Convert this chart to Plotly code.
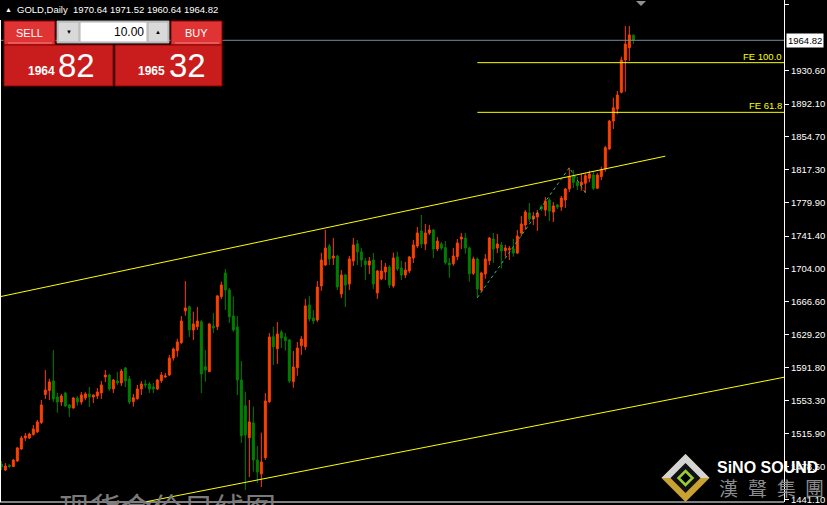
import plotly.graph_objects as go
import pandas as pd

# ---------------- data ----------------
dates = pd.bdate_range(end="2020-07-30", periods=159).strftime("%Y-%m-%d").tolist()

opens = [1481.3, 1474.5, 1479.7, 1478.5, 1484.8, 1498.5, 1511.1, 1511.1, 1515.1, 1517.9,
         1528.7, 1560.7, 1565.2, 1576.1, 1557.8, 1552.1, 1562.4, 1548.7, 1545.3, 1556.7,
         1552.1, 1556.7, 1561.3, 1557.8, 1559.0, 1562.4, 1580.6, 1582.9, 1567.0, 1576.1,
         1573.8, 1590.9, 1578.3, 1552.5, 1555.9, 1567.0, 1572.7, 1572.7, 1569.2, 1567.0,
         1576.4, 1580.6, 1582.9, 1602.3, 1610.6, 1619.8, 1656.0, 1660.9, 1634.3, 1638.0,
         1643.7, 1592.4, 1586.7, 1638.8, 1638.0, 1672.3, 1699.3, 1679.9, 1650.2, 1637.7,
         1577.2, 1547.9, 1511.4, 1528.2, 1485.9, 1470.0, 1488.6, 1552.5, 1626.6, 1612.9,
         1632.0, 1626.3, 1622.9, 1575.3, 1591.3, 1616.4, 1615.2, 1662.8, 1648.0, 1645.7,
         1684.5, 1708.4, 1730.1, 1716.4, 1718.7, 1675.3, 1697.0, 1686.8, 1713.0, 1732.4,
         1723.3, 1713.0, 1708.4, 1714.1, 1676.5, 1692.5, 1700.4, 1706.1, 1684.5, 1717.6,
         1705.0, 1697.0, 1701.6, 1716.4, 1730.1, 1747.2, 1732.4, 1745.0, 1748.4, 1726.7,
         1732.4, 1728.2, 1710.7, 1709.9, 1717.9, 1738.1, 1739.2, 1727.8, 1698.9, 1715.3,
         1679.9, 1698.2, 1713.3, 1738.1, 1727.8, 1731.3, 1724.8, 1725.9, 1727.0, 1722.1,
         1744.9, 1754.1, 1767.8, 1760.9, 1763.2, 1775.0, 1771.2, 1782.6, 1768.9, 1776.9,
         1774.6, 1782.6, 1795.2, 1809.2, 1802.8, 1799.7, 1801.7, 1807.4, 1811.1, 1796.0,
         1809.2, 1818.0, 1840.8, 1872.7, 1886.4, 1905.5, 1942.3, 1956.4, 1970.64]
highs = [1484.8, 1482.5, 1481.3, 1487.0, 1500.8, 1513.4, 1516.8, 1517.1, 1525.9, 1531.6,
         1554.4, 1588.6, 1578.7, 1611.5, 1562.4, 1561.3, 1563.5, 1549.8, 1557.8, 1559.0,
         1563.5, 1563.2, 1569.2, 1560.7, 1568.1, 1576.1, 1588.6, 1584.1, 1578.3, 1586.3,
         1589.8, 1592.1, 1581.8, 1561.3, 1571.5, 1576.1, 1577.2, 1575.0, 1573.8, 1578.3,
         1586.3, 1585.2, 1605.7, 1614.1, 1624.3, 1650.2, 1690.2, 1662.0, 1655.2, 1660.5,
         1645.7, 1611.5, 1642.3, 1653.7, 1674.2, 1689.4, 1703.9, 1682.2, 1672.3, 1650.2,
         1598.9, 1563.9, 1554.4, 1546.8, 1501.9, 1517.1, 1562.4, 1630.8, 1638.0, 1643.4,
         1634.3, 1630.8, 1624.0, 1610.3, 1620.6, 1627.4, 1669.6, 1673.1, 1657.1, 1690.2,
         1722.5, 1748.4, 1732.4, 1739.2, 1719.9, 1702.7, 1698.2, 1718.7, 1739.2, 1737.0,
         1727.8, 1716.4, 1717.6, 1722.1, 1702.7, 1714.1, 1710.7, 1708.4, 1722.5, 1723.3,
         1713.0, 1711.9, 1718.7, 1737.0, 1751.8, 1765.5, 1755.2, 1754.1, 1749.5, 1740.4,
         1734.7, 1735.8, 1716.4, 1727.8, 1738.1, 1745.0, 1745.0, 1729.3, 1717.9, 1716.8,
         1700.8, 1721.0, 1740.4, 1745.0, 1743.8, 1734.7, 1731.3, 1730.1, 1738.5, 1748.4,
         1764.3, 1771.2, 1779.2, 1768.9, 1771.2, 1776.9, 1786.0, 1784.9, 1780.3, 1778.0,
         1787.2, 1796.3, 1819.5, 1816.8, 1808.8, 1812.3, 1813.1, 1816.0, 1814.9, 1813.1,
         1820.6, 1844.2, 1873.9, 1899.3, 1907.0, 1946.1, 1981.1, 1981.1, 1971.52]
lows = [1474.5, 1473.4, 1476.8, 1477.9, 1483.7, 1497.4, 1507.6, 1509.9, 1513.7, 1516.8,
        1527.0, 1555.5, 1554.4, 1552.1, 1539.9, 1547.6, 1546.4, 1535.0, 1544.5, 1547.9,
        1549.0, 1554.1, 1546.4, 1551.0, 1555.5, 1555.5, 1574.9, 1564.7, 1562.4, 1571.5,
        1570.4, 1569.2, 1549.8, 1546.8, 1554.7, 1560.1, 1568.1, 1562.4, 1562.4, 1565.8,
        1573.8, 1579.5, 1581.8, 1599.3, 1603.8, 1618.3, 1650.6, 1626.3, 1622.9, 1634.3,
        1562.4, 1575.3, 1586.3, 1630.9, 1634.3, 1669.6, 1657.1, 1642.3, 1632.3, 1560.1,
        1505.3, 1451.7, 1466.5, 1472.6, 1459.7, 1455.1, 1485.9, 1551.0, 1594.3, 1595.5,
        1613.7, 1610.6, 1573.8, 1568.4, 1582.1, 1605.7, 1611.5, 1643.7, 1641.1, 1643.4,
        1678.8, 1707.3, 1708.4, 1708.4, 1679.9, 1670.8, 1660.5, 1679.9, 1707.3, 1708.4,
        1706.1, 1691.3, 1698.2, 1681.0, 1669.6, 1691.3, 1691.3, 1682.2, 1682.5, 1701.6,
        1691.3, 1693.6, 1699.3, 1710.7, 1727.8, 1727.8, 1725.6, 1742.7, 1716.4, 1724.4,
        1725.6, 1708.8, 1693.9, 1707.6, 1714.1, 1726.7, 1721.3, 1689.4, 1697.0, 1671.1,
        1678.0, 1692.8, 1708.4, 1710.7, 1722.1, 1704.2, 1717.9, 1714.1, 1717.9, 1721.0,
        1741.5, 1748.4, 1757.5, 1754.1, 1747.2, 1770.0, 1764.3, 1758.6, 1757.5, 1772.3,
        1770.0, 1773.5, 1791.7, 1796.3, 1794.0, 1793.2, 1790.9, 1802.8, 1794.0, 1795.2,
        1805.4, 1814.9, 1839.7, 1863.6, 1880.4, 1904.3, 1906.2, 1941.2, 1960.64]
closes = [1477.9, 1479.1, 1478.5, 1485.9, 1499.6, 1511.1, 1513.4, 1515.6, 1521.3, 1529.3,
          1548.7, 1565.8, 1575.0, 1555.5, 1552.1, 1559.0, 1547.6, 1545.3, 1556.7, 1552.1,
          1560.1, 1561.3, 1557.8, 1560.1, 1563.5, 1571.5, 1582.9, 1567.0, 1577.2, 1573.8,
          1587.5, 1576.1, 1552.1, 1557.0, 1567.0, 1572.7, 1571.5, 1567.0, 1567.0, 1577.2,
          1582.9, 1581.8, 1602.3, 1612.6, 1620.6, 1644.5, 1659.4, 1634.3, 1641.1, 1644.5,
          1584.1, 1588.6, 1641.1, 1636.6, 1673.1, 1685.6, 1679.9, 1649.4, 1634.3, 1577.2,
          1513.7, 1514.5, 1529.3, 1485.9, 1472.2, 1483.7, 1553.3, 1626.3, 1615.2, 1629.7,
          1625.2, 1622.1, 1576.1, 1592.0, 1613.7, 1624.0, 1661.7, 1646.8, 1644.5, 1683.3,
          1714.1, 1727.8, 1715.3, 1718.7, 1683.3, 1697.0, 1685.6, 1715.3, 1731.3, 1723.3,
          1714.1, 1708.8, 1713.0, 1686.8, 1701.6, 1701.6, 1706.1, 1685.6, 1716.4, 1703.9,
          1697.0, 1702.7, 1717.6, 1731.3, 1745.0, 1732.4, 1745.0, 1748.4, 1726.7, 1735.8,
          1727.8, 1711.1, 1708.4, 1718.7, 1733.5, 1740.4, 1727.8, 1698.5, 1715.3, 1681.0,
          1699.3, 1715.3, 1739.2, 1726.7, 1732.4, 1724.4, 1727.8, 1727.0, 1722.1, 1741.5,
          1755.2, 1768.9, 1760.9, 1764.3, 1767.8, 1772.3, 1781.5, 1770.0, 1775.8, 1774.6,
          1784.9, 1795.2, 1809.2, 1802.8, 1798.9, 1802.8, 1810.3, 1812.3, 1796.0, 1811.1,
          1816.8, 1842.3, 1872.7, 1887.9, 1902.4, 1942.3, 1960.6, 1970.9, 1964.82]

ytick_vals = [2005.40, 1930.60, 1892.10, 1854.70, 1817.30, 1779.90, 1741.40, 1704.00,
              1666.60, 1629.20, 1591.80, 1553.30, 1515.90, 1478.50, 1441.10]
ytick_text = [f"{v:.2f}" for v in ytick_vals]

bid, ask, lot = 1964.82, 1965.32, 10.00

# channel trend lines: (bar index, price) anchors
upper_line_x, upper_line_y = [-1, 166], [1671.6, 1832.6]
lower_line_x, lower_line_y = [30, 200], [1432.8, 1584.2]

# fibonacci expansion anchors A, B, C (bar index, price)
fe_idx = [119, 142, 146]
fe_price = [1671.1, 1819.5, 1790.9]
fe_ratios = [100.0, 61.8]

# ---------------- layout helpers ----------------
W, H = 827, 505
PL, PR, PT, PB = 1, 784, 0, 502


def px(x):
    return (x - PL) / (PR - PL)


def py(y):
    return (PB - y) / (PB - PT)


UP, DN = "#FF4000", "#008000"

fig = go.Figure()
fig.add_trace(go.Candlestick(
    x=dates, open=opens, high=highs, low=lows, close=closes,
    increasing=dict(line=dict(color=UP, width=1), fillcolor=UP),
    decreasing=dict(line=dict(color=DN, width=1), fillcolor=DN),
    whiskerwidth=0, hoverinfo="skip", showlegend=False,
))

# zigzag of the expansion tool
fig.add_trace(go.Scatter(
    x=[dates[i] for i in fe_idx], y=fe_price, mode="lines",
    line=dict(color="#3CB371", width=1, dash="dot"),
    hoverinfo="skip", showlegend=False,
))

shapes = []
# current bid line
shapes.append(dict(type="line", xref="paper", yref="y", x0=0, x1=1, y0=bid, y1=bid,
                   line=dict(color="#778899", width=1)))
# channel lines
for xs, ys in [(upper_line_x, upper_line_y), (lower_line_x, lower_line_y)]:
    shapes.append(dict(type="line", xref="x", yref="y", x0=xs[0], x1=xs[1], y0=ys[0], y1=ys[1],
                       line=dict(color="#FFFF00", width=1)))
# FE levels
A, B, C = fe_price
annotations = []
for r in fe_ratios:
    lvl = C + (B - A) * r / 100.0
    shapes.append(dict(type="line", xref="x", yref="y", x0=fe_idx[0], x1=200, y0=lvl, y1=lvl,
                       line=dict(color="#FFFF00", width=1)))
    annotations.append(dict(xref="paper", yref="y", x=px(783), y=lvl, text=f"FE {r:.1f}",
                            showarrow=False, xanchor="right", yanchor="bottom",
                            font=dict(family="Liberation Sans", size=9.5, color="#FFFF00"),
                            borderpad=0))

# frame lines
shapes.append(dict(type="line", xref="paper", yref="paper", x0=px(0.5), x1=px(0.5), y0=0, y1=py(20),
                   line=dict(color="white", width=1)))
shapes.append(dict(type="line", xref="paper", yref="paper", x0=px(0), x1=1, y0=0, y1=0,
                   line=dict(color="white", width=1)))

# chart-shift marker
shapes.append(dict(type="path", xref="paper", yref="paper",
                   path=f"M{px(636)},{py(1)} L{px(646)},{py(1)} L{px(641)},{py(6)} Z",
                   fillcolor="#909090", line=dict(width=0)))


def rect(x0, y0, x1, y1, fill, line="#8B0000", lw=1):
    shapes.append(dict(type="rect", xref="paper", yref="paper", x0=px(x0), x1=px(x1),
                       y0=py(y1), y1=py(y0), fillcolor=fill, line=dict(color=line, width=lw)))


# trade panel
rect(4, 21, 55, 45, "#E03434")
rect(171, 21, 222, 45, "#E03434")
rect(57, 21, 169, 43, "#E6E6E6", "#A0A0A0")
rect(58, 22, 79, 42, "#D9D9D9", "#B0B0B0")
rect(80, 22, 147, 42, "#FFFFFF", "#B0B0B0")
rect(148, 22, 168, 42, "#D9D9D9", "#B0B0B0")
rect(4, 45, 113, 86, "#C91C1C")
rect(115, 45, 222, 86, "#C91C1C")
for x0, x1 in [(8, 52), (175, 219)]:
    shapes.append(dict(type="line", xref="paper", yref="paper", x0=px(x0), x1=px(x1),
                       y0=py(43), y1=py(43), line=dict(color="#F08080", width=1)))


def diamond(cx, cy, r, fill, line=None, lw=0):
    shapes.append(dict(type="path", xref="paper", yref="paper",
                       path=f"M{px(cx)},{py(cy - r)} L{px(cx + r)},{py(cy)} L{px(cx)},{py(cy + r)} L{px(cx - r)},{py(cy)} Z",
                       fillcolor=fill, line=dict(color=line or fill, width=lw)))


# logo
diamond(685.5, 478, 24, "#C9A232")
shapes.append(dict(type="path", xref="paper", yref="paper",
                   path=f"M{px(685.5)},{py(454)} L{px(709.5)},{py(478)} L{px(661.5)},{py(478)} Z",
                   fillcolor="#D4D4D4", line=dict(width=0)))
diamond(685.5, 478, 15, "#111111")
diamond(685.5, 478, 7, "#000000", "#9ACD32", 2.5)


def ann(text, x, y, size, color="white", xa="left", ya="middle", family="Liberation Sans",
        weight="normal", bg=None):
    d = dict(xref="paper", yref="paper", x=px(x), y=py(y), text=text, showarrow=False,
             xanchor=xa, yanchor=ya, borderpad=0,
             font=dict(family=family, size=size, color=color, weight=weight))
    if bg:
        d["bgcolor"] = bg
    annotations.append(d)


# header
ann("▲", 4, 9.5, 7)
ann(f"GOLD,Daily  {opens[-1]:.2f} {highs[-1]:.2f} {lows[-1]:.2f} {closes[-1]:.2f}", 16, 10, 9.5)
# panel text
ann("SELL", 29.5, 33, 11, xa="center")
ann("BUY", 196.5, 33, 11, xa="center")
ann(f"{lot:.2f}", 145, 32, 12, color="black", xa="right")
ann("▼", 68.5, 32, 6, color="black", xa="center")
ann("▲", 158, 32, 6, color="black", xa="center")
bs = f"{bid:.2f}"
as_ = f"{ask:.2f}"
ann(bs[:4], 56, 71, 12, xa="right", weight="bold")
ann(bs[5:], 57, 65.5, 33, xa="left")
ann(as_[:4], 166, 71, 12, xa="right", weight="bold")
ann(as_[5:], 168, 65.5, 33, xa="left")
# current price label
annotations.append(dict(xref="paper", yref="y", x=px(785.5), y=bid, text=f"{bid:.2f}",
                        showarrow=False, xanchor="left", yanchor="middle", bgcolor="white",
                        borderpad=1, font=dict(family="Liberation Sans", size=9.5, color="black")))
# watermark
ann("现货金价日线图", 167.5, 483, 31, color="#7A7A7A", xa="center", ya="top",
    family="Noto Sans CJK SC")
# logo text
ann("SiNO SOUND", 716, 467, 16, xa="left", weight="bold")
for ch, cx in zip("漢聲集團", [728, 757, 786, 814]):
    ann(ch, cx, 487, 19, color="#8C8C8C", xa="center", family="Noto Sans CJK TC")

fig.update_layout(
    width=W, height=H,
    margin=dict(l=PL, r=W - PR, t=PT, b=H - PB, pad=0),
    paper_bgcolor="black", plot_bgcolor="black",
    shapes=shapes, annotations=annotations,
    showlegend=False,
    xaxis=dict(type="category", range=[-0.083, 195.67], showgrid=False, zeroline=False,
               showticklabels=False, ticks="", rangeslider=dict(visible=False), fixedrange=True),
    yaxis=dict(side="right", range=[1438.0, 2010.8], tickvals=ytick_vals, ticktext=ytick_text,
               ticks="outside", ticklen=4, tickcolor="white", showgrid=False, zeroline=False,
               showline=True, linecolor="white", linewidth=1,
               tickfont=dict(family="Liberation Sans", size=9.5, color="white")),
)

fig.write_html("out.html", config={"displayModeBar": False},
               post_script="document.body.style.margin='0';document.body.style.overflow='hidden';")
